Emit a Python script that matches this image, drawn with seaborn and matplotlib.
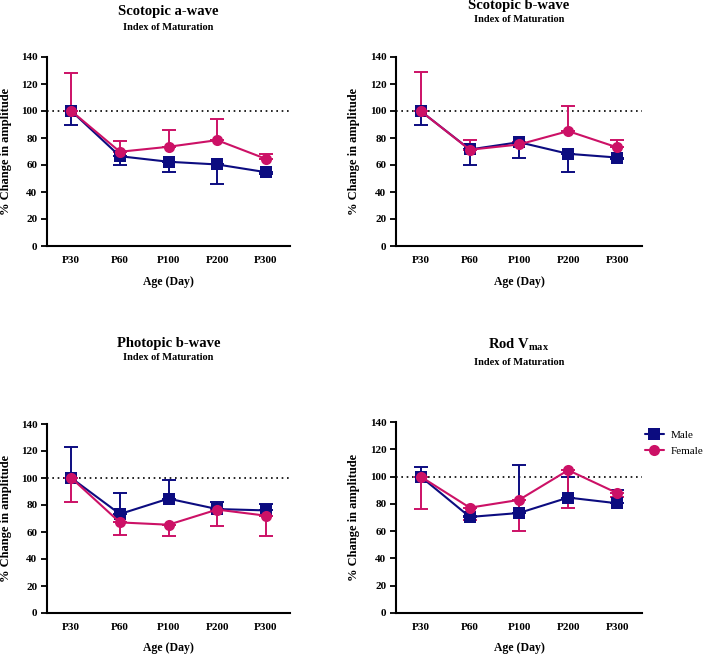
import numpy as np
import pandas as pd
import seaborn as sns
import matplotlib
matplotlib.use("Agg")
import matplotlib.pyplot as plt
from matplotlib.lines import Line2D

sns.set_theme(style="ticks")
plt.rcParams['font.family'] = ['Liberation Serif', 'DejaVu Serif']
plt.rcParams['text.color'] = 'black'
plt.rcParams['axes.labelcolor'] = 'black'
plt.rcParams['mathtext.fontset'] = 'custom'
plt.rcParams['mathtext.rm'] = 'Liberation Serif:bold'
plt.rcParams['mathtext.bf'] = 'Liberation Serif:bold'

ages = ["P30", "P60", "P100", "P200", "P300"]
groups = ["Male", "Female"]

titles = ["Scotopic a-wave", "Scotopic b-wave", "Photopic b-wave", r"Rod V$_{\rm max}$"]
subtitle = "Index of Maturation"

# means
a_male = [100, 66.5, 62.4, 60.4, 54.7]
a_female = [100, 69.8, 73.5, 78.4, 64.6]
b_male = [100, 71.5, 76.9, 68.3, 65.5]
b_female = [100, 71.3, 75.2, 85.1, 73.0]
p_male = [100, 73.3, 84.7, 77.0, 76.0]
p_female = [100, 67.1, 65.4, 76.6, 72.1]
r_male = [100, 70.4, 73.3, 84.6, 80.4]
r_female = [100, 77.2, 82.9, 104.7, 87.8]

# one-sided errors: (lower, upper)
a_male_err = ([10.5, 6.5, 7.4, 14.8, 1.0], [0, 0, 0, 0, 0])
a_female_err = ([0, 0, 0, 0, 0], [28, 8.2, 12.5, 15.6, 3.4])
b_male_err = ([10.2, 11.4, 11.4, 13.4, 1.0], [0, 0, 0, 0, 0])
b_female_err = ([0, 0, 0, 0, 0], [28.6, 7.3, 2.0, 18.3, 5.7])
p_male_err = ([0, 0, 0, 0, 0], [23.1, 15.4, 13.9, 5.3, 5.0])
p_female_err = ([18, 9.1, 8.2, 12.4, 15.4], [0, 0, 0, 0, 0])
r_male_err = ([0, 0, 0, 0, 0], [7.3, 1.0, 35.0, 15.4, 9.6])
r_female_err = ([23.8, 9.2, 22.9, 28.0, 2.8], [0, 0, 0, 0, 0])

panels = [
    (a_male, a_female, a_male_err, a_female_err),
    (b_male, b_female, b_male_err, b_female_err),
    (p_male, p_female, p_male_err, p_female_err),
    (r_male, r_female, r_male_err, r_female_err),
]

colors = {"Male": "#0c0c80", "Female": "#cc1166"}
markers = {"Male": "s", "Female": "o"}

W, H = 711, 654
fig = plt.figure(figsize=(W / 100, H / 100), dpi=100)

# axes boxes in pixels: (x0, x1, ytop, ybottom)
boxes = [(47, 290, 57, 246), (396, 642, 57, 246), (47, 290, 424, 613), (396, 642, 422, 613)]
title_y = [(12, 27), (5, 19), (344, 358), (345, 362)]
xlabel_y = [282, 282, 648, 648]
ylabel_x = [6, 354, 6, 354]

for i, (m, f, me, fe) in enumerate(panels):
    x0, x1, yt, yb = boxes[i]
    ax = fig.add_axes([x0 / W, 1 - yb / H, (x1 - x0) / W, (yb - yt) / H])
    df = pd.DataFrame({
        "Age": ages * 2,
        "Value": m + f,
        "Sex": ["Male"] * 5 + ["Female"] * 5,
    })
    ax.axhline(100, color="black", linestyle=(0, (1, 2.2)), linewidth=1.2, zorder=1)
    for g, vals, err in (("Male", m, me), ("Female", f, fe)):
        ax.errorbar(ages, vals, yerr=[err[0], err[1]], fmt="none", ecolor=colors[g],
                    elinewidth=1.4, capsize=5, capthick=1.4, zorder=2)
    sns.lineplot(data=df, x="Age", y="Value", hue="Sex", style="Sex",
                 palette=colors, markers=markers, dashes=False, markersize=8,
                 markeredgewidth=0, linewidth=1.5, ax=ax, legend=False, sort=False, zorder=3)
    ax.set_xlim(-0.5, 4.5)
    ax.set_ylim(0, 140)
    ax.set_yticks(np.arange(0, 141, 20))
    ax.set_xlabel("")
    ax.set_ylabel("")
    for s in ("top", "right"):
        ax.spines[s].set_visible(False)
    for s in ("left", "bottom"):
        ax.spines[s].set_linewidth(1.5)
        ax.spines[s].set_color("black")
    ax.tick_params(axis="both", direction="out", length=4, width=1.3, colors="black",
                   labelsize=8, pad=3)
    ax.tick_params(axis="x", length=0, pad=7)
    for lab in ax.get_xticklabels() + ax.get_yticklabels():
        lab.set_fontweight("bold")
    cx = (x0 + x1) / 2 / W
    fig.text(cx, 1 - title_y[i][0] / H, titles[i], ha="center", va="center",
             fontsize=10.5, fontweight="bold")
    fig.text(cx, 1 - title_y[i][1] / H, subtitle, ha="center", va="center",
             fontsize=7.5, fontweight="bold")
    fig.text(cx, 1 - xlabel_y[i] / H, "Age (Day)", ha="center", va="center",
             fontsize=8.5, fontweight="bold")
    fig.text(ylabel_x[i] / W, 1 - (yt + yb) / 2 / H, "% Change in amplitude", ha="center",
             va="center", rotation=90, fontsize=9, fontweight="bold")
    if i == 3:
        handles = [Line2D([0], [0], color=colors[g], marker=markers[g], markersize=8,
                          markeredgewidth=0, linewidth=1.5) for g in groups]
        fig.legend(handles, groups, loc="center left", bbox_to_anchor=(645 / W, 1 - 443 / H),
                   frameon=False, fontsize=8, handlelength=1.7, labelspacing=0.6,
                   handletextpad=0.6, borderaxespad=0, borderpad=0)

fig.savefig("out.png", dpi=100)
